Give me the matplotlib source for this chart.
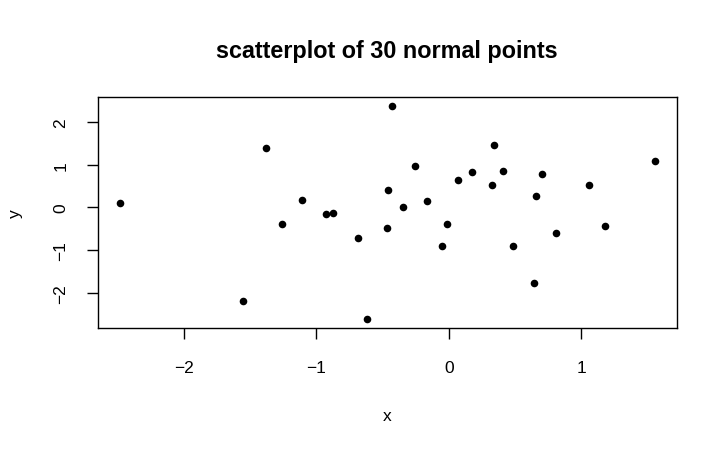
import matplotlib
matplotlib.use("Agg")
import matplotlib.pyplot as plt

# 30 points
x = [-2.483, -1.381, -1.107, -1.256, -0.926, -0.871, -0.687, -1.552, -0.619, -0.460,
     -0.468, -0.430, -0.254, -0.343, -0.164, -0.010, -0.050, 0.073, 0.176, 0.340,
     0.327, 0.410, 0.485, 0.656, 0.707, 0.646, 0.812, 1.061, 1.177, 1.559]
y = [0.107, 1.379, 0.170, -0.395, -0.149, -0.133, -0.714, -2.179, -2.614, 0.419,
     -0.488, 2.379, 0.967, 0.016, 0.140, -0.395, -0.907, 0.643, 0.829, 1.449,
     0.527, 0.860, -0.907, 0.271, 0.774, -1.767, -0.605, 0.535, -0.427, 1.084]
xticks = [-2, -1, 0, 1]
yticks = [-2, -1, 0, 1, 2]

plt.rcParams['font.family'] = ['Liberation Sans', 'DejaVu Sans']

fig = plt.figure(figsize=(7.28, 4.52), dpi=100)
ax = fig.add_axes([0.135, 0.2721, 0.7945, 0.5111])

ax.scatter(x, y, s=30, color='black', linewidths=0)

# R-style 4% padding
ax.margins(0.04)

def fmt(t):
    return '\u2212' + str(-t) if t < 0 else str(t)

ax.set_xticks(xticks)
ax.set_xticklabels([fmt(t) for t in xticks])
ax.set_yticks(yticks)
ax.set_yticklabels([fmt(t) for t in yticks], rotation=90, va='center')
ax.tick_params(direction='out', length=7.7, width=1, labelsize=12.5)
ax.tick_params(axis='x', pad=15.5)
ax.tick_params(axis='y', pad=14)
for sp in ax.spines.values():
    sp.set_linewidth(1)

ax.set_xlabel('x', fontsize=12.5, va='center')
ax.xaxis.set_label_coords(0.5, -0.38)
ax.set_ylabel('y', fontsize=12.5, va='center')
ax.yaxis.set_label_coords(-0.144, 0.5)

fig.text(0.532, 0.885, 'scatterplot of 30 normal points', ha='center', va='center',
         fontsize=16.8, fontweight='bold')

fig.savefig('out.png', dpi=100)
